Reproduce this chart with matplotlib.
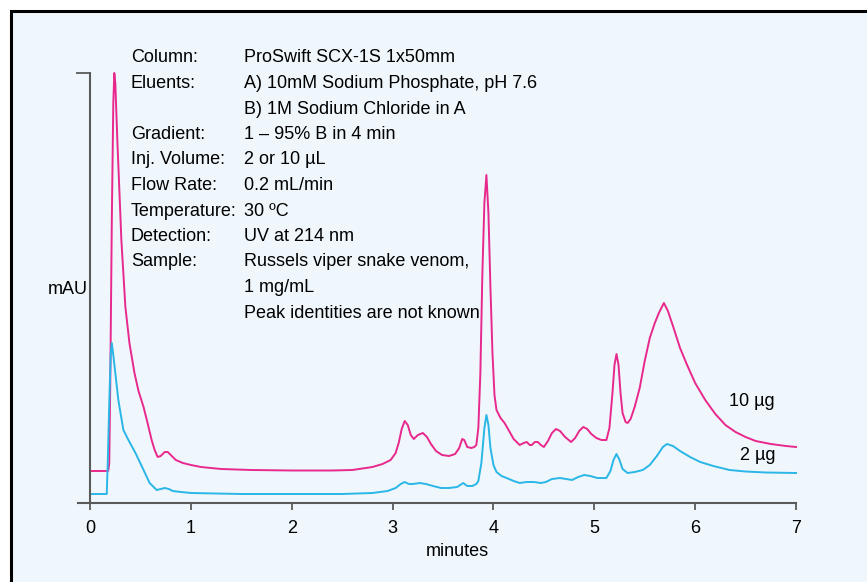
"""Cation-exchange chromatogram of Russells viper venom, 2 and 10 ug injections"""
import matplotlib
matplotlib.use('Agg')
import matplotlib.pyplot as plt
from matplotlib.patches import Rectangle

plt.rcParams['font.family'] = ['Liberation Sans', 'DejaVu Sans']

W, H = 867, 582

# 10 ug trace (time in minutes, response in mAU, arbitrary scale)
T_10 = [0.00, 0.18, 0.19, 0.20, 0.215, 0.23, 0.24, 0.25, 0.27, 0.31, 0.35, 0.39, 0.44,
        0.48, 0.53, 0.57, 0.61, 0.64, 0.67, 0.70, 0.74, 0.77, 0.80, 0.85, 0.92, 1.00,
        1.10, 1.30, 1.60, 2.00, 2.40, 2.60, 2.70, 2.80, 2.90, 2.98, 3.03, 3.06, 3.09,
        3.12, 3.15, 3.18, 3.21, 3.25, 3.30, 3.34, 3.38, 3.43, 3.49, 3.56, 3.62, 3.66,
        3.69, 3.71, 3.74, 3.78, 3.81, 3.83, 3.85, 3.87, 3.89, 3.91, 3.93, 3.95, 3.97,
        3.99, 4.01, 4.03, 4.07, 4.11, 4.15, 4.20, 4.26, 4.30, 4.33, 4.36, 4.38, 4.41,
        4.44, 4.47, 4.50, 4.54, 4.58, 4.62, 4.66, 4.71, 4.77, 4.81, 4.85, 4.89, 4.93,
        4.97, 5.02, 5.07, 5.12, 5.15, 5.18, 5.20, 5.22, 5.24, 5.26, 5.28, 5.31, 5.33,
        5.36, 5.40, 5.45, 5.50, 5.55, 5.60, 5.64, 5.69, 5.73, 5.78, 5.85, 5.92, 6.00,
        6.10, 6.20, 6.30, 6.40, 6.50, 6.60, 6.75, 6.90, 7.00]
Y_10 = [32, 32, 40, 120, 280, 400, 430, 420, 363, 263, 196, 160, 130,
        112, 96, 80, 63, 53, 46, 47, 51, 51, 48, 43, 40, 38,
        36, 34, 33, 32.5, 32.5, 33, 34.5, 36, 39, 43, 50, 60, 74,
        82, 78, 68, 64, 68, 70, 66, 59, 52, 48, 47, 49, 55,
        64, 63, 56, 55, 56, 58, 75, 130, 230, 300, 328, 290, 215,
        150, 108, 93, 85, 80, 73, 64, 58, 60, 61, 58, 58, 61,
        61, 58, 56, 62, 70, 74, 72, 66, 61, 65, 72, 76, 74,
        69, 65, 63, 63, 75, 110, 138, 149, 138, 110, 90, 81, 80,
        84, 96, 115, 142, 165, 180, 190, 200, 192, 177, 155, 138, 120,
        103, 89, 78, 71, 66, 62, 59, 57, 56]

# 2 ug trace
T_2 = [0.00, 0.165, 0.175, 0.19, 0.205, 0.215, 0.23, 0.25, 0.28, 0.33, 0.38, 0.45, 0.53,
       0.59, 0.66, 0.70, 0.74, 0.78, 0.82, 0.90, 1.00, 1.50, 2.50, 2.80, 2.95, 3.03,
       3.08, 3.12, 3.16, 3.20, 3.27, 3.33, 3.40, 3.48, 3.56, 3.64, 3.70, 3.74, 3.79,
       3.83, 3.85, 3.88, 3.91, 3.93, 3.95, 3.97, 4.00, 4.03, 4.08, 4.13, 4.20, 4.26,
       4.33, 4.40, 4.47, 4.52, 4.58, 4.66, 4.72, 4.78, 4.84, 4.90, 4.96, 5.03, 5.12,
       5.16, 5.19, 5.22, 5.25, 5.28, 5.33, 5.40, 5.48, 5.55, 5.62, 5.68, 5.72, 5.78,
       5.85, 5.95, 6.05, 6.18, 6.34, 6.50, 6.70, 7.00]
Y_2 = [9, 9, 40, 100, 150, 160, 148, 130, 103, 73, 63, 50, 33,
       20, 13, 14, 15, 14, 12, 11, 10, 9, 9, 10, 12, 15,
       19, 21, 19, 19, 20, 19, 17, 15, 15, 16, 20, 17, 17,
       19, 22, 40, 75, 88, 78, 55, 38, 31, 27, 25, 22, 20,
       21, 21, 20, 21, 24, 25, 24, 23, 26, 28, 27, 25, 25,
       32, 43, 49, 43, 34, 30, 31, 33, 38, 47, 56, 59, 57,
       52, 46, 41, 37, 33, 31.5, 30.5, 30]

X_TICKS = [0, 1, 2, 3, 4, 5, 6, 7]

INFO_LABELS = ['Column:', 'Eluents:', '', 'Gradient:', 'Inj. Volume:', 'Flow Rate:',
               'Temperature:', 'Detection:', 'Sample:', '', '']
INFO_VALUES = ['ProSwift SCX-1S 1x50mm', 'A) 10mM Sodium Phosphate, pH 7.6',
               'B) 1M Sodium Chloride in A', '1 \u2013 95% B in 4 min', '2 or 10 \u00b5L',
               '0.2 mL/min', '30 \u00baC', 'UV at 214 nm', 'Russels viper snake venom,',
               '1 mg/mL', 'Peak identities are not known']

PINK = '#e8288c'
BLUE = '#2ab6e6'
AXIS = '#5a5a5a'
BG = '#eff7fd'
FS = 13

fig = plt.figure(figsize=(W / 100, H / 100), dpi=100, facecolor='white')
# panel background with border (top/left visible)
fig.patches.append(Rectangle((11 / W, -0.05), 1.2, 1 - 11 / H + 0.05, transform=fig.transFigure,
                             facecolor=BG, edgecolor='black', linewidth=2.2, zorder=-5))

ax = fig.add_axes([78 / W, 1 - 503 / H, (796 - 78) / W, (503 - 73) / H])
ax.set_zorder(2)
ax.patch.set_visible(False)
ax.set_xlim(-0.12, 7.0)
ax.set_ylim(0, 430)

ax.plot(T_10, Y_10, color=PINK, lw=1.4, solid_joinstyle='round', clip_on=False)
ax.plot(T_2, Y_2, color=BLUE, lw=1.4, solid_joinstyle='round', clip_on=False)

for side in ['top', 'right']:
    ax.spines[side].set_visible(False)
ax.spines['left'].set_position(('data', 0))
for side in ['left', 'bottom']:
    ax.spines[side].set_color(AXIS)
    ax.spines[side].set_linewidth(1.5)

ax.set_xticks(X_TICKS)
ax.set_xticklabels([str(t) for t in X_TICKS], fontsize=FS)
ax.tick_params(axis='x', direction='out', length=5, width=1.3, color=AXIS, pad=7)
ax.set_yticks([430])
ax.set_yticklabels([''])
ax.tick_params(axis='y', direction='out', length=10, width=1.3, color=AXIS)

fig.text(457 / W, 1 - 551 / H, 'minutes', ha='center', va='center', fontsize=FS)
fig.text(48 / W, 1 - 290 / H, 'mAU', ha='left', va='center', fontsize=FS)
fig.text(775 / W, 1 - 401 / H, '10 \u00b5g', ha='right', va='center', fontsize=FS)
fig.text(775 / W, 1 - 455 / H, '2 \u00b5g', ha='right', va='center', fontsize=FS)

for i, (lab, val) in enumerate(zip(INFO_LABELS, INFO_VALUES)):
    y = 1 - (58 + i * 25.5) / H
    fig.text(131 / W, y, lab, ha='left', va='center', fontsize=FS)
    fig.text(244 / W, y, val, ha='left', va='center', fontsize=FS)

fig.savefig('out.png', dpi=100, facecolor='white')
